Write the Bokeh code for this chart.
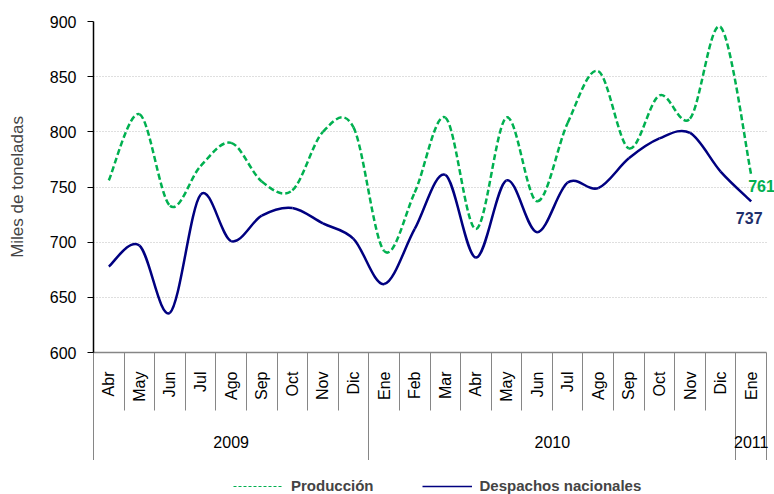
import math
from bokeh.plotting import figure
from bokeh.layouts import column
from bokeh.models import (FixedTicker, LinearAxis, Range1d, Legend, LegendItem,
                          Label, CustomJSTickFormatter, ColumnDataSource)
from bokeh.embed import file_html
from bokeh.resources import INLINE

# ---- data ----
meses = ["Abr", "May", "Jun", "Jul", "Ago", "Sep", "Oct", "Nov", "Dic",
         "Ene", "Feb", "Mar", "Abr", "May", "Jun", "Jul", "Ago", "Sep", "Oct", "Nov", "Dic",
         "Ene"]
anios = ["2009", "2010", "2011"]
meses_por_anio = [9, 12, 1]
produccion = [756, 816, 733, 769, 790, 755, 747, 800, 804,
              692, 745, 813, 712, 813, 737, 808, 855, 785, 833, 812, 895,
              761]
despachos = [678, 697, 636, 743, 701, 724, 731, 717, 703,
             662, 712, 761, 686, 756, 709, 754, 749, 776, 794, 799, 764,
             737]
y_ticks = [600, 650, 700, 750, 800, 850, 900]
series_names = ["Producción", "Despachos nacionales"]

VERDE = "#00B050"
AZUL = "#000080"
FONT = "Liberation Sans"

n = len(meses)
xs = list(range(n))

PLOT_W = 673          # width of the category area in px
EXTRA_R = 8           # extra room right of the categories for the end label
x_end = (n - 0.5) + EXTRA_R * n / PLOT_W


def bezier_source(x, y):
    """Smoothed (Catmull-Rom style) segments through each data point."""
    d = dict(x0=[], y0=[], x1=[], y1=[], cx0=[], cy0=[], cx1=[], cy1=[])
    m = len(x)
    for i in range(m - 1):
        xp, yp = (x[i - 1], y[i - 1]) if i > 0 else (x[i], y[i])
        xn, yn = (x[i + 2], y[i + 2]) if i + 2 < m else (x[i + 1], y[i + 1])
        d["x0"].append(x[i]); d["y0"].append(y[i])
        d["x1"].append(x[i + 1]); d["y1"].append(y[i + 1])
        d["cx0"].append(x[i] + (x[i + 1] - xp) / 6.0)
        d["cy0"].append(y[i] + (y[i + 1] - yp) / 6.0)
        d["cx1"].append(x[i + 1] - (xn - x[i]) / 6.0)
        d["cy1"].append(y[i + 1] - (yn - y[i]) / 6.0)
    return ColumnDataSource(d)


p = figure(frame_width=PLOT_W + EXTRA_R, frame_height=331, output_backend="svg", toolbar_location=None,
           x_range=Range1d(-0.5, x_end), y_range=Range1d(y_ticks[0], y_ticks[-1]),
           x_axis_type=None, min_border_left=93, min_border_right=0, min_border_top=21,
           min_border_bottom=108)
p.outline_line_color = None
p.background_fill_color = "white"
p.border_fill_color = "white"

# y axis
ya = p.yaxis[0]
ya.ticker = FixedTicker(ticks=y_ticks)
ya.axis_label = "Miles de toneladas"
ya.axis_label_text_font = FONT
ya.axis_label_text_font_size = "17px"
ya.axis_label_text_font_style = "normal"
ya.axis_label_standoff = 20
ya.major_label_text_font = FONT
ya.major_label_text_font_size = "16px"
ya.major_label_text_color = "black"
ya.major_label_standoff = 11
ya.axis_line_color = "black"
ya.axis_line_width = 1.5
ya.major_tick_out = 6
ya.major_tick_in = 0
ya.major_tick_line_color = "black"
ya.minor_tick_line_color = None

p.xgrid.visible = False
p.ygrid.grid_line_color = "#BFBFBF"
p.ygrid.grid_line_dash = "1 2"
p.ygrid.grid_line_width = 1
try:
    p.ygrid[0].cross_bounds = (-0.5, n - 0.5)
except Exception:
    pass

# month axis
boundaries = [i - 0.5 for i in range(n + 1)]
ax1 = LinearAxis(ticker=FixedTicker(ticks=xs, minor_ticks=boundaries), bounds=(-0.5, n - 0.5),
                 formatter=CustomJSTickFormatter(args=dict(labels=meses),
                                                 code="const i = Math.round(tick); return (i >= 0 && i < labels.length) ? labels[i] : '';"))
ax1.axis_line_color = "#868686"
ax1.axis_line_width = 1.5
ax1.major_tick_out = 0
ax1.major_tick_in = 0
ax1.major_tick_line_color = None
ax1.minor_tick_out = 58
ax1.minor_tick_in = 0
ax1.minor_tick_line_color = "#868686"
ax1.minor_tick_line_width = 1
ax1.major_label_orientation = math.pi / 2
ax1.major_label_standoff = -39
ax1.major_label_text_font = FONT
ax1.major_label_text_font_size = "16px"
ax1.major_label_text_color = "black"
p.add_layout(ax1, "below")

# year axis
year_bounds = [-0.5]
year_centers = []
start = -0.5
for k in meses_por_anio:
    year_centers.append(start + k / 2.0)
    start += k
    year_bounds.append(start)
ax2 = LinearAxis(ticker=FixedTicker(ticks=year_centers, minor_ticks=year_bounds), bounds=(-0.5, n - 0.5),
                 formatter=CustomJSTickFormatter(args=dict(pos=year_centers, labels=anios),
                                                 code="for (let i = 0; i < pos.length; i++) { if (Math.abs(pos[i] - tick) < 1e-6) return labels[i]; } return '';"))
ax2.axis_line_color = None
ax2.major_tick_out = 0
ax2.major_tick_in = 0
ax2.major_tick_line_color = None
ax2.minor_tick_out = 60
ax2.minor_tick_in = 0
ax2.minor_tick_line_color = "#868686"
ax2.minor_tick_line_width = 1
ax2.major_label_standoff = -29
ax2.major_label_text_font = FONT
ax2.major_label_text_font_size = "16px"
ax2.major_label_text_color = "black"
p.add_layout(ax2, "below")

# smoothed lines
p.bezier(x0="x0", y0="y0", x1="x1", y1="y1", cx0="cx0", cy0="cy0", cx1="cx1", cy1="cy1",
         source=bezier_source(xs, produccion), line_color=VERDE, line_width=2.5, line_dash="6 3")
p.bezier(x0="x0", y0="y0", x1="x1", y1="y1", cx0="cx0", cy0="cy0", cx1="cx1", cy1="cy1",
         source=bezier_source(xs, despachos), line_color=AZUL, line_width=2.5)

# end labels
p.add_layout(Label(x=xs[-1], y=produccion[-1], text=str(produccion[-1]), x_offset=-3, y_offset=-11,
                   text_baseline="middle", text_align="left", text_font=FONT,
                   text_font_style="bold", text_font_size="16px", text_color=VERDE))
p.add_layout(Label(x=xs[-1], y=despachos[-1], text=str(despachos[-1]), x_offset=-2, y_offset=-17,
                   text_baseline="middle", text_align="center", text_font=FONT,
                   text_font_style="bold", text_font_size="16px", text_color="#1F2F6B"))

# legend strip below the chart (proxy renderers sit outside the visible range)
lf = figure(width=774, height=34, output_backend="svg", toolbar_location=None,
            x_axis_type=None, y_axis_type=None, min_border=0,
            x_range=Range1d(0, 1), y_range=Range1d(0, 1))
lf.outline_line_color = None
lf.background_fill_color = "white"
lf.border_fill_color = "white"
leg1 = lf.line(x=[5, 6], y=[5, 6], line_color=VERDE, line_width=1.2, line_dash="3 2")
leg2 = lf.line(x=[5, 6], y=[5, 6], line_color=AZUL, line_width=1.5)
legend = Legend(items=[LegendItem(label=series_names[0], renderers=[leg1]),
                       LegendItem(label=series_names[1], renderers=[leg2])],
                orientation="horizontal", location=(140, 0),
                label_text_font=FONT, label_text_font_style="bold", label_text_font_size="15px",
                glyph_width=50, glyph_height=16, label_height=16, label_standoff=8,
                spacing=48, padding=0, margin=0,
                border_line_color=None, background_fill_alpha=0)
lf.add_layout(legend)

layout = column(p, lf, spacing=0)
open("out.html", "w").write(file_html(layout, INLINE))
